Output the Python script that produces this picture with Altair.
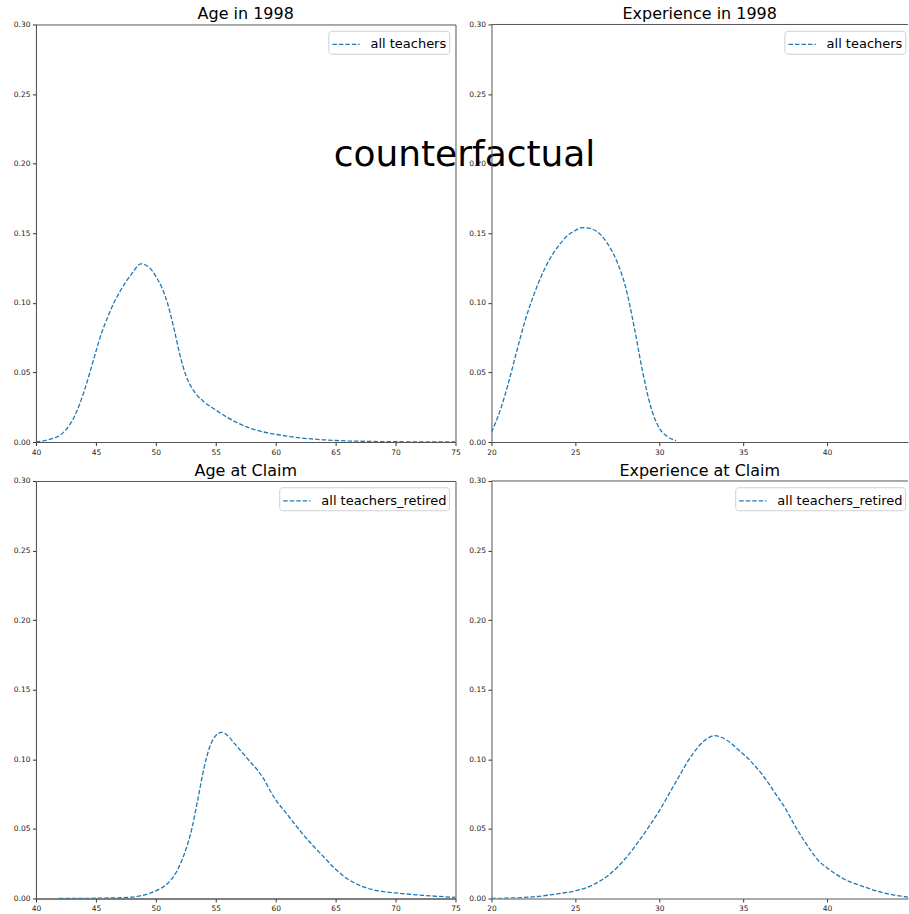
import altair as alt
import pandas as pd

FONT = "DejaVu Sans"
BLUE = "#1f77b4"
SPINE = "#555555"

SUPTITLE = "counterfactual"
TITLES = ["Age in 1998", "Experience in 1998", "Age at Claim", "Experience at Claim"]
SERIES = ["all teachers", "all teachers", "all teachers_retired", "all teachers_retired"]

Y_TICKS = [0.0, 0.05, 0.10, 0.15, 0.20, 0.25, 0.30]
AGE_TICKS = [40, 45, 50, 55, 60, 65, 70, 75]
EXP_TICKS = [20, 25, 30, 35, 40, 45]

# Kernel density of age in 1998
age98_x = [40.0, 41.0, 41.5, 42.0, 42.5, 43.0, 43.5, 44.0, 44.5, 45.0, 45.5, 46.0, 46.5,
           47.0, 47.5, 48.0, 48.75, 49.5, 50.0, 50.5, 51.0, 51.5, 52.0, 52.5, 53.0,
           53.5, 54.0, 55.0, 56.0, 57.0, 58.0, 59.0, 60.0, 61.0, 62.0, 63.0, 64.0,
           65.0, 66.0, 68.0, 70.0, 75.0]
age98_y = [0.0, 0.0015, 0.0028, 0.0048, 0.0088, 0.015, 0.024, 0.036, 0.050, 0.065, 0.079, 0.090, 0.100,
           0.108, 0.115, 0.121, 0.128, 0.125, 0.119, 0.111, 0.099, 0.082, 0.063, 0.048, 0.039,
           0.033, 0.029, 0.023, 0.0175, 0.013, 0.0095, 0.0072, 0.0055, 0.0042, 0.0030, 0.0022, 0.0016,
           0.0011, 0.0008, 0.0004, 0.0002, 0.0]

# Kernel density of experience in 1998
exp98_x = [20.0, 20.5, 21.0, 21.5, 22.0, 22.5, 23.0, 23.5, 24.0, 24.5, 25.0, 25.4, 26.0,
           26.5, 27.0, 27.5, 28.0, 28.5, 29.0, 29.5, 30.0, 30.5, 31.0]
exp98_y = [0.007, 0.022, 0.042, 0.065, 0.087, 0.105, 0.120, 0.132, 0.141, 0.148, 0.152, 0.154, 0.153,
           0.149, 0.141, 0.129, 0.111, 0.083, 0.051, 0.025, 0.010, 0.0038, 0.001]

# Kernel density of age at claim (retired teachers)
claim_age_x = [41.9, 45.0, 48.0, 49.0, 50.0, 51.0, 51.5, 52.0, 52.5, 53.0, 53.5, 54.0, 54.5,
               55.0, 55.5, 56.0, 56.5, 57.0, 57.5, 58.0, 58.5, 59.0, 59.5, 60.0, 61.0, 62.0,
               63.0, 64.0, 65.0, 66.0, 67.0, 68.0, 69.0, 70.0, 72.0, 75.0]
claim_age_y = [0.0, 0.0002, 0.001, 0.0025, 0.0055, 0.011, 0.016, 0.024, 0.035, 0.050, 0.071, 0.093, 0.109,
               0.117, 0.1194, 0.117, 0.112, 0.107, 0.102, 0.097, 0.092, 0.086, 0.078, 0.071, 0.060, 0.049,
               0.039, 0.030, 0.021, 0.014, 0.0095, 0.0065, 0.005, 0.004, 0.0025, 0.0008]

# Kernel density of experience at claim (retired teachers)
claim_exp_x = [20.0, 22.0, 23.0, 24.0, 25.0, 26.0, 27.0, 28.0, 29.0, 30.0, 31.0, 32.0, 32.7, 33.3,
               34.0, 34.7, 35.5, 36.2, 37.0, 37.5, 38.0, 38.5, 39.0, 39.5, 40.0, 40.5, 41.0,
               42.0, 43.0, 44.0, 45.0]
claim_exp_y = [0.0, 0.0008, 0.0018, 0.0035, 0.0055, 0.0095, 0.017, 0.029, 0.045, 0.063, 0.084, 0.104, 0.1135,
               0.117, 0.114, 0.107, 0.098, 0.088, 0.074, 0.065, 0.054, 0.044, 0.035, 0.027, 0.022, 0.0177,
               0.014, 0.0093, 0.0052, 0.0025, 0.0008]

PANEL_H = 418
LEFT_W = 420
RIGHT_W = 417
AGE_DOMAIN = [40, 75]
EXP_DOMAIN = [20, 20 + 25 * RIGHT_W / LEFT_W]


def panel(xs, ys, series, title, xdomain, xticks, width, legend_x,
          suptitle=None, open_right=False):
    df = pd.DataFrame({"x": xs, "density": ys, "series": series})
    legend = alt.Legend(
        title=None,
        orient="none",
        legendX=legend_x,
        legendY=6.3,
        symbolType="M-1.3,0H1.3",
        symbolStrokeWidth=1.3,
        symbolDash=[4.5, 2],
        symbolSize=441,
        symbolOffset=4,
        labelFontSize=13,
        labelFont=FONT,
        labelColor="black",
        labelOffset=13,
        labelLimit=300,
        padding=2.2,
        strokeColor="#d0d0d0",
        fillColor="white",
        cornerRadius=3,
    )
    line = alt.Chart(df).mark_line(
        strokeDash=[4.5, 2], strokeWidth=1.3, interpolate="monotone", clip=True
    ).encode(
        x=alt.X("x:Q", scale=alt.Scale(domain=xdomain, nice=False, zero=False),
                axis=alt.Axis(values=xticks, format="d", title=None, labelFlush=False)),
        y=alt.Y("density:Q", scale=alt.Scale(domain=[0, 0.3], nice=False),
                axis=alt.Axis(values=Y_TICKS, format=".2f", title=None)),
        color=alt.Color("series:N", scale=alt.Scale(domain=[series], range=[BLUE]), legend=legend),
    )
    layers = [line]
    if open_right:
        # top spine only; the right edge of the panel runs off the page
        top = alt.Chart(pd.DataFrame({"k": [0]})).mark_rule(color=SPINE, strokeWidth=1).encode(
            x=alt.value(0), x2=alt.value(width), y=alt.value(0)
        )
        layers.append(top)
    if suptitle:
        sup = alt.Chart(pd.DataFrame({"t": [suptitle]})).mark_text(
            fontSize=36, font=FONT, align="center", baseline="alphabetic", color="black"
        ).encode(text="t:N", x=alt.value(429), y=alt.value(142))
        layers.append(sup)
    props = dict(
        width=width,
        height=PANEL_H,
        title=alt.TitleParams(title, fontSize=16, font=FONT, fontWeight="normal", color="black",
                              anchor="middle", frame="group", offset=-15, baseline="alphabetic"),
    )
    if open_right:
        props["view"] = alt.ViewBackground(stroke="transparent")
    return alt.layer(*layers).properties(**props)


p1 = panel(age98_x, age98_y, SERIES[0], TITLES[0], AGE_DOMAIN, AGE_TICKS, LEFT_W, 292.7,
           suptitle=SUPTITLE)
p2 = panel(exp98_x, exp98_y, SERIES[1], TITLES[1], EXP_DOMAIN, EXP_TICKS[:-1], RIGHT_W, 293.3,
           open_right=True)
p3 = panel(claim_age_x, claim_age_y, SERIES[2], TITLES[2], AGE_DOMAIN, AGE_TICKS, LEFT_W, 243.5)
p4 = panel(claim_exp_x, claim_exp_y, SERIES[3], TITLES[3], EXP_DOMAIN, EXP_TICKS[:-1], RIGHT_W, 244.0,
           open_right=True)

chart = alt.concat(
    p1, p2, p3, p4, columns=2, spacing={"row": 39, "column": 36}, bounds="flush"
).resolve_scale(
    x="independent", y="independent", color="independent"
).resolve_legend(
    color="independent"
).configure(
    font=FONT,
    padding={"left": 12, "top": 5, "right": 0, "bottom": 0},
).configure_view(
    stroke=SPINE, strokeWidth=1
).configure_axis(
    grid=False,
    labelFont=FONT,
    labelFontSize=7.5,
    labelColor="#222222",
    tickSize=3.5,
    tickColor="#333333",
    domainColor=SPINE,
    labelPadding=2.5,
)

chart.save("out.html", embed_options={"renderer": "svg", "actions": False})
